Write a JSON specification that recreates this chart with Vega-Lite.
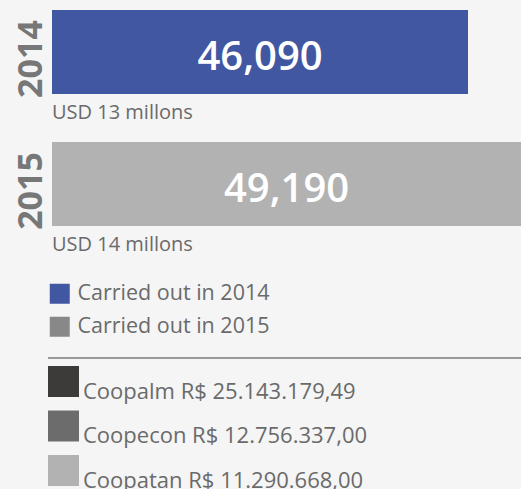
{
  "$schema": "https://vega.github.io/schema/vega-lite/v6.json",
  "width": 521,
  "height": 489,
  "autosize": "none",
  "padding": 0,
  "background": "#f5f5f5",
  "config": {
    "view": {"stroke": null},
    "font": "Open Sans",
    "legend": {"padding": 0, "titlePadding": 0}
  },
  "datasets": {
    "years": [
      {"year": "2014", "value": 46090, "label": "46,090", "usd": "USD 13 millons"},
      {"year": "2015", "value": 49190, "label": "49,190", "usd": "USD 14 millons"}
    ],
    "carried": [
      {"item": "Carried out in  2014"},
      {"item": "Carried out in  2015"}
    ],
    "coops": [
      {"coop": "Coopalm R$ 25.143.179,49"},
      {"coop": "Coopecon R$ 12.756.337,00"},
      {"coop": "Coopatan  R$ 11.290.668,00"}
    ],
    "sep": [{"from": "left", "to": "right"}]
  },
  "layer": [
    {
      "data": {"name": "years"},
      "encoding": {
        "y": {"field": "year", "type": "nominal", "axis": null,
              "scale": {"type": "band", "range": [10, 226], "paddingInner": 0.3636, "paddingOuter": 0}}
      },
      "layer": [
        {
          "mark": {"type": "bar"},
          "encoding": {
            "x": {"field": "value", "type": "quantitative", "axis": null,
                  "scale": {"domain": [21760, 49190], "range": [52, 521], "nice": false, "zero": false}},
            "x2": {"datum": 21760},
            "color": {"field": "year", "type": "nominal", "legend": null,
                      "scale": {"range": ["#4257a2", "#b2b2b2"]}}
          }
        },
        {
          "mark": {"type": "text", "color": "#6a6a6a", "fontSize": 20,
                   "baseline": "alphabetic", "align": "left", "dy": 67, "dx": 0},
          "encoding": {
            "x": {"datum": 21760, "type": "quantitative"},
            "text": {"field": "usd"}
          }
        },
        {
          "mark": {"type": "text", "color": "#777777", "fontSize": 34, "fontWeight": "bold",
                   "angle": 270, "baseline": "alphabetic", "align": "center", "dy": -10, "dx": -7},
          "encoding": {
            "x": {"datum": 21760, "type": "quantitative"},
            "text": {"field": "year"}
          }
        }
      ]
    },
    {
      "data": {"name": "years"},
      "mark": {"type": "text", "color": "#ffffff", "fontSize": 40, "fontWeight": 600,
               "baseline": "alphabetic", "align": "center", "dy": 18},
      "encoding": {
        "y": {"field": "year", "type": "nominal", "axis": null,
              "scale": {"type": "band", "range": [10, 226], "paddingInner": 0.3636, "paddingOuter": 0}},
        "x": {"field": "value", "type": "quantitative", "axis": null,
              "scale": {"domain": [21760, 49190], "range": [52, 286.5], "nice": false, "zero": false}},
        "text": {"field": "label"}
      }
    },
    {
      "data": {"name": "carried"},
      "mark": {"type": "square", "size": 0},
      "encoding": {
        "color": {
          "field": "item", "type": "nominal", "sort": null,
          "scale": {"range": ["#4257a2", "#888888"]},
          "legend": {
            "title": null, "orient": "none", "legendX": 49, "legendY": 283,
            "symbolType": "square", "symbolSize": 400, "symbolStrokeWidth": 0,
            "symbolOpacity": 1,
            "labelFontSize": 21.5, "labelColor": "#6a6a6a", "labelFont": "Open Sans",
            "labelOffset": 7, "rowPadding": 10, "labelLimit": 400
          }
        }
      }
    },
    {
      "data": {"name": "coops"},
      "mark": {"type": "square", "size": 0},
      "encoding": {
        "color": {
          "field": "coop", "type": "nominal", "sort": null,
          "scale": {"range": ["#3c3b39", "#6c6c6c", "#b2b2b2"]},
          "legend": {
            "title": null, "orient": "none", "legendX": 48, "legendY": 366,
            "symbolType": "square", "symbolSize": 961, "symbolStrokeWidth": 0,
            "symbolOpacity": 1,
            "labelFontSize": 22, "labelColor": "#6a6a6a", "labelFont": "Open Sans",
            "labelBaseline": "top", "labelOffset": 4, "rowPadding": 7.5, "labelLimit": 500
          }
        }
      }
    },
    {
      "data": {"name": "sep"},
      "mark": {"type": "rule", "color": "#9a9a9a", "strokeWidth": 2},
      "encoding": {
        "x": {"field": "from", "type": "ordinal", "axis": null,
              "scale": {"type": "point", "domain": ["left", "right"], "range": [48, 521], "padding": 0}},
        "x2": {"field": "to"},
        "y": {"datum": 0, "type": "quantitative", "axis": null,
              "scale": {"domain": [0, 1], "range": [358, 0]}}
      }
    }
  ],
  "resolve": {
    "scale": {"x": "independent", "y": "independent", "color": "independent"},
    "legend": {"color": "independent"}
  }
}
